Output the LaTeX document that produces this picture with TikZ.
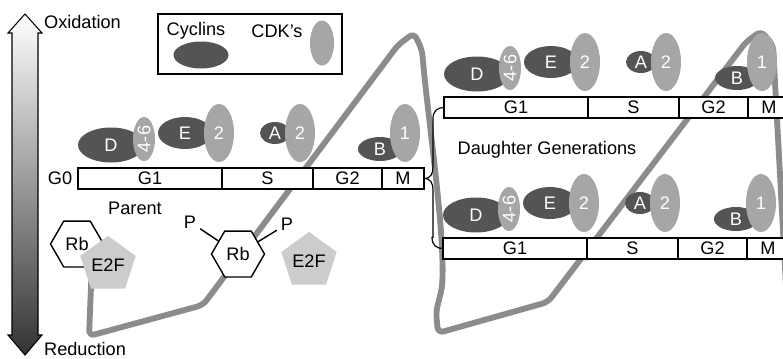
\documentclass[tikz,border=0pt]{standalone}
\usepackage{fontspec}
\setmainfont{Liberation Sans}
\usetikzlibrary{shapes.geometric,positioning,calc}
\definecolor{cycdark}{gray}{0.33}
\definecolor{cdklight}{gray}{0.65}
\definecolor{pathgray}{gray}{0.55}
\definecolor{e2fgray}{gray}{0.8}
\begin{document}
\begin{tikzpicture}[x=0.03cm, y=-0.03cm, font=\fontsize{15.5}{18}\selectfont,
  phase/.style={draw, fill=white, line width=1.2pt, inner sep=0, outer sep=0, minimum height=0.63cm},
  cyclin/.style={ellipse, fill=cycdark, text=white, inner sep=0},
  cdk/.style={ellipse, fill=cdklight, text=white, inner sep=0, minimum width=0.9cm, minimum height=1.74cm},
  rb/.style={regular polygon, regular polygon sides=6, draw, fill=white, line width=1.2pt, inner sep=0, minimum size=1.59cm},
  e2f/.style={regular polygon, regular polygon sides=5, fill=e2fgray, inner sep=0, minimum size=1.38cm},
  cyclepath/.style={draw=pathgray, line width=5pt, rounded corners=5pt},
  brace/.style={draw, line width=1pt}]
\clip (0,0) rectangle (783,358);
\shade[top color=white, bottom color=black!80, draw=black, line width=0.9pt] (25,14) -- (42,33) -- (38,33) -- (38,335) -- (42,335) -- (25,355) -- (8,335) -- (12,335) -- (12,33) -- (8,33) -- cycle;
\node[anchor=west] (ox) at (40,22) {Oxidation};
\node[anchor=west] (red) at (40,349) {Reduction};
\node[draw, line width=1.2pt, minimum width=5.52cm, minimum height=1.8cm] (legend) at (250,44) {};
\node (cyctxt) at (196,31) {Cyclins};
\node[cyclin, minimum width=1.65cm, minimum height=0.81cm] (cyckey) at (201,55) {};
\node (cdktxt) at (277,31) {CDK’s};
\node[cdk, minimum width=0.72cm, minimum height=1.35cm] (cdkkey) at (322,43) {};
\draw[cyclepath] (92,262) -- (89,336) -- (203,305) -- (398,45) -- (414,33) -- (422,50) .. controls (428,120) and (445,230) .. (442,288) -- (436,312) -- (438,333) -- (548,302) -- (746,42) -- (761,31) -- (773,45) -- (790,360);
\foreach \g/\ox/\oy/\bx in {p/78/168/0, a/444/97/-9, b/443/238/-9} {
  \node[phase, minimum width=4.32cm, anchor=north west] (\g g1) at (\ox,\oy) {G1};
  \node[phase, minimum width=2.73cm, right=0pt of \g g1] (\g s) {S};
  \node[phase, minimum width=2.07cm, right=0pt of \g s] (\g g2) {G2};
  \node[phase, minimum width=1.26cm, right=0pt of \g g2] (\g m) {M};
  \node[cyclin, minimum width=1.98cm, minimum height=1.05cm] (\g d) at (\ox+33,\oy-23) {D};
  \node[cdk, minimum width=0.66cm, minimum height=1.32cm] (\g k46) at (\ox+66,\oy-29) {\rotatebox{90}{4-6}};
  \node[cyclin, minimum width=1.62cm, minimum height=0.96cm] (\g e) at (\ox+107,\oy-35) {E};
  \node[cdk] (\g k2e) at (\ox+141,\oy-35) {2};
  \node[cyclin, minimum width=0.9cm, minimum height=0.66cm] (\g a) at (\ox+197,\oy-35) {A};
  \node[cdk] (\g k2a) at (\ox+222,\oy-35) {2};
  \node[cyclin, minimum width=1.32cm, minimum height=0.72cm] (\g b) at (\ox+302+\bx,\oy-19) {B};
  \node[cdk] (\g k1) at (\ox+327+\bx,\oy-35) {1};
}
\node (g0) at (60,178) {G0};
\node (parent) at (135,208) {Parent};
\node (daughters) at (547,150) {Daughter Generations};
\draw[brace] (pm.east) .. controls +(7,0) and +(0,7) .. ++(9,-12) |- ([xshift=-0.33cm,yshift=-0.33cm]ag1.west) .. controls +(0,-8) and +(-6,0) .. (ag1.west);
\draw[brace] (pm.east) .. controls +(7,0) and +(0,-7) .. ++(9,12) |- ([xshift=-0.33cm,yshift=0.33cm]bg1.west) .. controls +(0,8) and +(-6,0) .. (bg1.west);
\node[rb] (rb1) at (77,244) {Rb};
\node[e2f] (e2f1) at (108,265) {E2F};
\node[rb] (rb2) at (238,254) {Rb};
\node (pl) at (190,222) {P};
\node (pr) at (287,224) {P};
\draw[line width=1.2pt] (pl) -- (rb2) (pr) -- (rb2);
\node[e2f] (e2f2) at (309,261) {E2F};
\end{tikzpicture}
\end{document}
